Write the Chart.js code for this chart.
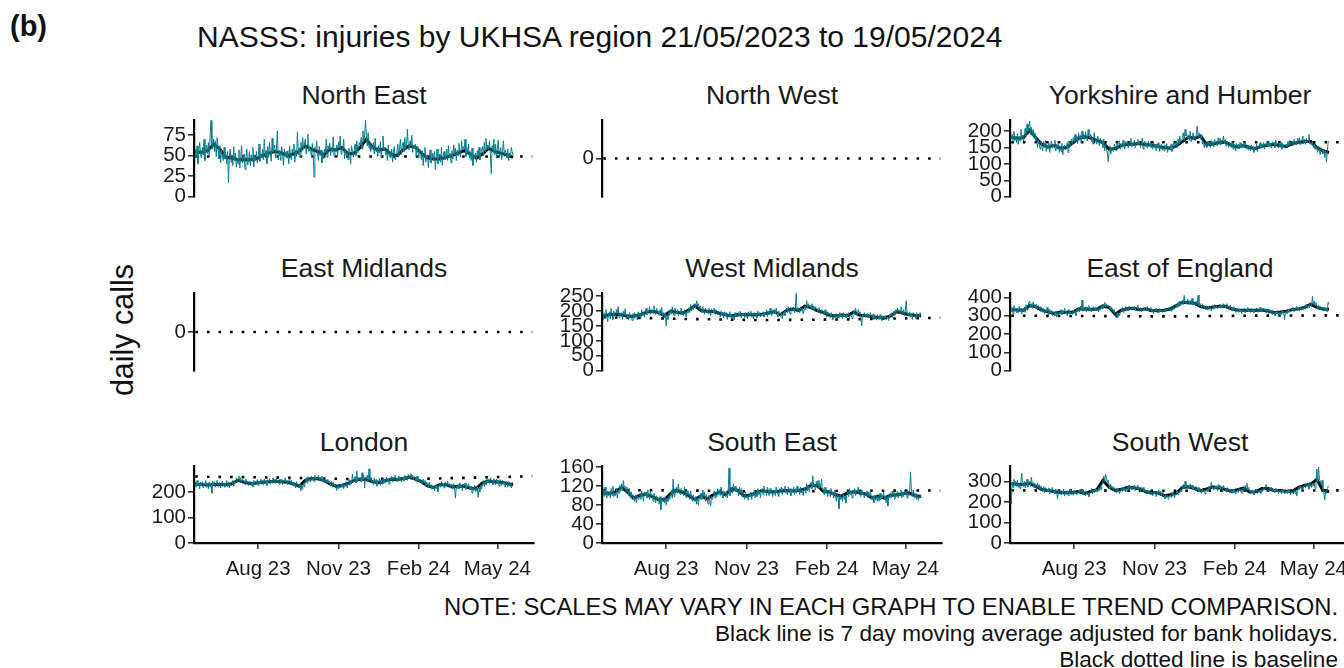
<!DOCTYPE html>
<html><head><meta charset="utf-8">
<script src="https://cdn.jsdelivr.net/npm/chart.js@4.4.1/dist/chart.umd.min.js"></script>
<style>
html,body{margin:0;padding:0;background:#fff;width:1344px;height:668px;overflow:hidden;position:relative;font-family:"Liberation Sans",Arial,sans-serif;color:#000}
.t{position:absolute;white-space:nowrap;line-height:1;color:#111}
.pt{transform:translateX(-50%);font-size:26.5px;color:#1a1a1a}
canvas{position:absolute}
</style></head><body>
<div class="t" style="left:10px;top:12px;font-size:29px;font-weight:bold">(b)</div>
<div class="t" style="left:197px;top:21.6px;font-size:30px">NASSS: injuries by UKHSA region 21/05/2023 to 19/05/2024</div>
<div class="t" style="left:122px;top:330px;font-size:30.5px;transform:translate(-50%,-50%) rotate(-90deg)">daily calls</div>
<div class="t pt" style="left:364px;top:81.6px">North East</div>
<div class="t pt" style="left:772px;top:81.6px">North West</div>
<div class="t pt" style="left:1180px;top:81.6px">Yorkshire and Humber</div>
<div class="t pt" style="left:364px;top:254.6px">East Midlands</div>
<div class="t pt" style="left:772px;top:254.6px">West Midlands</div>
<div class="t pt" style="left:1180px;top:254.6px">East of England</div>
<div class="t pt" style="left:364px;top:428.6px">London</div>
<div class="t pt" style="left:772px;top:428.6px">South East</div>
<div class="t pt" style="left:1180px;top:428.6px">South West</div>
<div class="t" style="right:6px;top:595px;font-size:23.8px">NOTE: SCALES MAY VARY IN EACH GRAPH TO ENABLE TREND COMPARISON.</div>
<div class="t" style="right:6px;top:622.5px;font-size:22.6px">Black line is 7 day moving average adjusted for bank holidays.</div>
<div class="t" style="right:6px;top:649px;font-size:22.6px">Black dotted line is baseline</div>
<script>
// x axis ticks (day 0 = 21/05/2023)
const xTickDays = [72, 164, 256, 346];
const xTickLabels = ['Aug 23', 'Nov 23', 'Feb 24', 'May 24'];
// days at which the 7-day moving average was read
const maDays = [0,7,14,21,28,35,42,49,56,63,70,77,84,91,98,105,112,119,126,133,140,147,154,161,168,175,182,189,196,203,210,217,224,231,238,245,252,259,266,273,280,287,294,301,308,315,322,329,336,343,350,357,364];
const baseDays = [0, 91, 182, 273, 386];

const neDaily = [58,48,62,40,55,66,52, 47,60,51,70,44,57,63, 52,66,49,75,93,61,58, 70,55,68,49,72,60,46, 62,41,57,50,44,60,46, 52,40,55,17,49,58,42, 50,38,61,44,53,36,47, 40,57,35,49,62,41,46, 52,33,47,58,39,44,55, 38,51,43,60,36,49,45, 55,41,48,64,43,52,47, 58,45,70,49,56,40,61, 48,66,52,43,71,54,59, 63,47,58,80,45,56,50, 44,61,52,38,58,49,55, 47,56,40,62,50,45,58, 53,64,42,57,49,79,51, 60,48,66,55,72,58,64, 70,52,63,76,55,61,57, 49,65,53,24,60,56,68, 52,44,61,50,57,41,55, 46,58,53,70,48,62,57, 65,50,60,54,73,49,58, 55,63,48,67,59,74,52, 61,57,70,46,58,50,54, 45,59,51,40,62,55,48, 57,64,50,68,53,61,66, 63,72,58,80,67,75,93, 74,62,78,59,66,55,63, 58,66,52,71,55,60,49, 62,53,67,48,59,74,56, 60,51,57,44,63,49,55, 47,58,42,55,61,45,50, 53,64,48,59,70,51,62, 66,55,72,58,64,82,60, 57,68,62,75,54,63,58, 64,50,61,55,47,58,52, 45,56,38,52,60,42,49, 51,35,48,57,41,46,53, 44,55,33,49,58,40,47, 52,42,60,38,50,55,45, 49,58,44,62,47,53,41, 56,46,63,51,59,44,57, 50,65,54,48,68,57,61, 58,70,49,60,53,64,47, 55,44,59,38,51,46,53, 42,56,49,60,45,52,58, 61,50,66,55,71,57,63, 58,68,52,28,62,55,70, 51,64,47,58,69,50,56, 60,45,55,68,49,57,52, 47,58,44,53,49,60,55, 50];
const neMA = [54,54,56,64,58,48,47,45,45,45,46,50,53,55,54,50,52,55,62,58,55,51,58,57,60,52,53,60,70,60,57,58,52,50,57,62,60,53,47,46,46,48,50,53,56,52,47,52,59,55,53,51,48];
const neBase = [49, 49, 49, 49, 49];

const nwBase = [0, 0, 0, 0, 0];

const ykDaily = [175,190,168,200,172,185,165, 192,160,183,170,205,176,188, 170,195,210,185,222,198,215, 230,190,212,185,205,178,195, 168,185,150,172,160,145,170, 155,140,168,150,172,138,158, 145,163,135,158,170,148,160, 150,172,140,160,145,165,135, 155,138,162,128,150,158,142, 148,165,135,170,152,160,175, 158,180,165,190,170,185,162, 195,172,188,165,200,180,190, 175,198,182,170,205,185,178, 190,168,180,160,195,175,170, 160,185,170,155,178,165,172, 150,175,140,160,145,135,107, 140,155,130,150,148,138,160, 152,140,165,148,158,170,145, 162,150,172,155,145,168,160, 170,148,165,158,178,152,163, 155,172,150,165,160,175,158, 168,150,163,178,145,160,170, 152,165,148,170,155,162,150, 160,145,168,150,158,140,162, 148,165,138,155,160,142,152, 140,158,145,162,135,150,155, 145,160,138,152,165,148,158, 170,150,175,160,185,165,172, 180,195,170,205,185,190,178, 188,172,200,168,182,195,175, 185,170,192,215,180,195,188, 175,190,160,170,150,165,155, 148,170,155,165,150,172,158, 168,152,175,160,170,155,180, 160,178,158,172,165,185,162, 175,155,168,160,150,165,158, 150,168,145,160,155,140,162, 148,160,145,165,152,158,150, 162,148,170,152,145,158,142, 155,140,158,145,150,135,152, 145,160,138,155,150,165,148, 158,150,165,145,162,155,168, 152,170,155,162,148,168,160, 165,150,172,158,155,148,162, 150,165,145,160,155,148,158, 160,150,168,155,172,158,165, 170,155,175,162,168,158,178, 165,180,158,172,170,185,162, 175,160,178,165,172,190,160, 165,158,170,150,160,145,155, 148,135,155,140,128,150,142, 130,145,120,140,105,138,165, 170];
const ykMA = [181,178,180,203,180,160,152,157,148,150,163,178,183,179,172,165,145,147,156,160,161,162,159,157,153,150,148,155,168,182,178,185,158,161,165,167,157,152,156,150,147,154,157,160,156,153,162,166,168,168,150,140,135];
const ykBase = [166, 166, 166, 166, 166];

const emBase = [0, 0, 0, 0, 0];

const wmDaily = [170,195,178,205,182,165,190, 198,175,210,185,172,200,188, 180,205,192,215,178,195,186, 195,172,200,185,208,180,176, 190,170,195,178,185,168,192, 175,195,180,188,170,198,184, 192,178,205,185,195,180,200, 210,188,202,195,215,190,198, 205,192,218,198,188,210,195, 200,185,205,190,212,180,195, 178,195,150,188,172,200,185, 205,190,215,198,185,210,200, 190,205,185,200,195,210,188, 198,185,205,192,180,202,195, 210,195,222,200,215,205,225, 220,210,235,215,225,205,218, 208,195,215,200,190,210,198, 205,192,210,198,185,208,200, 195,210,190,205,200,188,198, 192,180,200,185,195,178,198, 185,195,172,190,182,198,180, 190,175,185,170,195,180,188, 180,195,185,200,178,192,185, 192,178,195,185,175,198,188, 185,200,180,192,175,195,188, 192,178,200,185,195,180,190, 185,198,180,195,188,205,182, 200,188,210,192,185,205,195, 205,190,210,195,180,200,188, 182,195,175,190,198,185,200, 210,195,215,200,190,212,205, 200,215,195,210,265,198,212, 208,195,215,200,210,190,205, 218,205,235,210,225,215,220, 210,225,205,218,200,215,208, 205,195,212,200,190,205,198, 200,188,205,192,180,198,190, 185,178,195,180,172,190,185, 180,192,175,188,178,195,182, 190,175,195,182,188,178,192, 182,195,178,190,185,175,188, 200,188,210,195,185,205,198, 190,178,150,188,182,195,180, 185,192,178,190,180,195,182, 178,190,172,185,180,170,188, 180,172,188,175,168,185,178, 175,185,170,180,178,168,188, 182,195,178,190,200,185,205, 195,210,198,205,192,215,200, 190,205,185,200,235,190,195, 185,198,180,192,172,195,188, 190,175,195,182,188,180,195, 185];
const wmMA = [183,188,190,188,183,183,188,196,200,196,185,200,196,193,205,218,202,200,199,193,188,184,189,188,188,188,190,194,198,188,203,207,202,217,212,202,196,186,184,187,185,197,186,185,181,179,178,184,198,194,188,186,185];
const wmBase = [180, 174, 170, 172, 178];

const eeDaily = [320,345,310,355,325,340,315, 338,315,350,325,342,310,335, 325,348,318,360,330,345,372, 380,345,365,340,375,350,362, 340,362,330,355,345,325,350, 335,318,342,310,330,320,345, 325,305,335,315,328,300,322, 315,300,325,292,318,305,320, 310,332,305,325,315,340,318, 325,300,318,335,308,322,312, 305,330,312,325,300,338,320, 345,320,352,330,385,325,340, 330,348,322,345,335,355,328, 342,320,338,350,325,345,330, 335,348,320,342,330,355,338, 360,340,372,348,365,345,358, 352,335,348,325,340,318,332, 305,290,318,295,310,300,322, 325,345,318,340,330,350,328, 340,325,352,335,345,330,348, 335,350,328,345,340,358,332, 328,345,320,340,335,325,342, 345,330,350,325,340,332,345, 320,335,312,330,325,340,318, 330,315,338,322,335,318,332, 325,340,320,335,330,345,328, 338,325,345,330,350,335,348, 360,345,372,350,380,355,368, 385,360,410,370,378,362,390, 375,360,385,365,395,358,372, 370,355,380,360,412,352,368, 358,340,365,345,355,335,350, 345,330,352,335,348,325,340, 352,335,360,342,355,338,350, 348,362,340,358,345,365,350, 355,340,365,348,352,335,358, 342,325,348,332,340,318,338, 330,318,338,325,335,310,332, 325,340,315,335,328,345,320, 332,318,340,325,335,315,330, 328,342,318,335,325,345,322, 335,320,342,328,338,315,335, 325,310,335,318,330,305,328, 315,300,325,310,322,295,318, 322,308,330,315,325,278,320, 325,310,335,318,330,320,338, 330,345,322,340,335,350,328, 340,325,348,332,345,330,342, 350,335,362,340,358,345,365, 370,350,405,360,380,355,372, 350,335,358,340,352,330,345, 340,325,348,330,342,320,375, 365];
const eeMA = [333,331,330,355,349,330,321,312,320,318,318,336,337,335,335,353,345,308,330,338,340,333,337,327,328,330,336,355,373,370,368,350,342,347,351,352,338,331,330,330,330,331,325,318,320,324,333,337,345,363,345,337,335];
const eeBase = [300, 298, 296, 300, 302];

const loDaily = [240,218,245,225,235,212,238, 222,240,215,235,228,245,218, 235,212,238,220,230,195,242, 225,240,218,232,245,220,235, 238,215,230,242,222,235,218, 230,245,220,238,215,232,225, 228,245,222,240,235,255,238, 250,262,240,255,235,248,242, 245,228,250,235,242,225,238, 240,225,238,220,245,230,242, 232,248,225,242,230,250,235, 245,228,250,235,242,225,248, 238,252,230,245,235,255,240, 248,232,255,238,245,230,250, 235,250,228,245,240,255,232, 245,228,240,252,232,245,225, 238,222,235,215,240,228,220, 215,230,205,225,212,235,218, 240,255,235,260,245,250,238, 262,245,258,240,265,248,255, 250,265,242,258,245,262,240, 255,238,250,232,248,235,242, 235,222,240,218,238,225,230, 220,205,228,212,225,215,230, 218,235,212,230,222,240,215, 235,250,225,245,232,270,238, 245,260,235,282,240,255,248, 255,238,275,245,265,215,258, 250,265,240,290,245,258,235, 242,228,255,235,248,222,245, 238,252,225,245,230,255,232, 248,235,258,240,252,230,255, 245,262,238,255,248,265,242, 255,240,262,245,258,238,250, 258,242,265,248,262,245,268, 262,250,272,255,265,248,260, 255,240,262,245,250,235,248, 242,228,250,235,245,222,238, 230,215,238,220,228,210,225, 222,205,228,212,225,200,220, 232,218,240,225,235,215,238, 235,220,242,225,232,215,230, 225,210,232,215,175,222,212, 228,212,235,218,225,205,230, 222,235,210,228,218,232,215, 210,222,195,218,205,225,200, 205,220,178,215,200,225,212, 230,245,222,240,228,250,235, 248,232,255,240,245,228,252, 242,228,250,235,245,222,248, 238,225,245,230,242,218,240, 235,220,240,225,232,215,238, 230];
const loMA = [230,229,227,229,229,228,232,245,237,233,235,238,240,242,240,238,232,222,245,252,251,245,232,222,225,233,245,249,248,239,236,243,249,248,252,258,250,240,223,217,228,228,219,222,223,214,214,235,242,240,238,233,228];
const loBase = [260, 256, 250, 252, 261];

const seDaily = [112,98,118,102,95,110,100, 108,95,115,100,120,98,105, 100,115,95,112,105,122,110, 125,110,132,115,120,108,118, 112,100,115,95,108,92,102, 98,88,102,85,100,92,96, 105,92,110,98,88,108,100, 108,95,112,100,92,110,98, 102,88,105,95,85,100,92, 95,82,98,70,92,88,96, 85,98,80,95,88,100,92, 100,112,95,135,98,115,108, 118,105,125,110,102,115,108, 112,100,118,105,95,110,102, 105,92,110,98,88,102,95, 88,98,82,95,80,100,92, 105,92,112,98,108,88,102, 95,82,100,88,78,98,92, 100,110,95,108,98,115,102, 112,100,118,105,95,110,105, 98,110,95,105,158,100,112, 118,105,125,110,120,108,115, 112,100,118,105,115,98,108, 102,92,108,95,100,90,105, 98,108,92,105,100,112,95, 108,98,115,102,110,96,112, 115,102,120,108,112,100,118, 110,100,115,105,112,98,108, 112,100,118,104,110,98,115, 108,118,102,115,110,120,105, 112,102,118,108,115,100,114, 108,118,102,115,105,120,110, 115,102,118,108,112,100,116, 118,105,125,110,120,108,122, 128,115,142,120,125,112,130, 120,132,115,125,118,135,112, 115,102,118,105,110,98,112, 110,98,115,102,108,95,112, 100,88,105,95,72,102,92, 98,88,105,92,100,85,102, 108,98,115,102,110,95,112, 105,115,100,112,108,118,102, 110,98,112,102,108,95,105, 100,110,95,108,98,112,96, 92,100,85,98,90,102,88, 98,88,105,92,102,95,108, 92,100,85,98,78,102,95, 105,95,110,98,108,92,102, 98,110,95,105,100,112,96, 108,98,112,102,110,95,105, 100,112,150,105,98,112,102, 95,105,92,100,90,98,102, 96];
const seMA = [105,105,108,118,107,95,101,103,98,92,91,104,111,107,100,92,100,93,102,108,102,115,111,100,101,106,111,108,108,110,111,110,111,114,122,121,109,108,102,99,106,108,106,103,95,99,95,101,102,104,106,100,98];
const seBase = [112, 111, 109, 110, 111];

const swDaily = [190,295,270,310,280,300,275, 305,270,290,265,298,340,280, 275,300,268,290,310,272,295, 300,275,320,285,295,270,290, 280,262,290,270,285,255,278, 265,250,275,245,270,255,262, 250,268,240,262,252,270,245, 255,238,262,245,215,258,248, 250,235,255,240,262,228,248, 240,255,230,250,238,258,235, 248,232,255,240,250,235,245, 255,240,262,245,258,235,250, 245,230,250,235,242,225,248, 250,265,240,258,245,262,248, 262,250,270,255,275,258,290, 310,325,300,335,315,295,305, 280,262,285,268,275,255,270, 258,245,265,250,262,240,255, 265,250,272,255,268,248,262, 275,260,282,265,278,258,272, 268,282,255,275,262,280,258, 265,252,272,258,270,248,262, 250,238,258,242,255,235,248, 245,230,252,238,248,225,250, 242,258,235,250,228,255,240, 228,215,235,220,232,212,230, 235,222,245,228,240,220,238, 242,255,235,250,245,262,248, 268,285,262,300,272,280,265, 278,265,288,270,282,262,275, 268,252,275,258,270,250,265, 255,242,262,248,258,238,252, 262,250,275,258,268,295,265, 272,258,280,265,278,255,285, 268,282,258,275,262,280,265, 262,248,270,255,265,245,260, 255,240,262,245,258,238,250, 258,245,265,252,262,240,262, 268,255,280,262,290,258,270, 250,238,258,242,252,235,248, 248,262,240,255,245,258,242, 262,250,272,258,268,285,265, 265,252,272,258,270,248,262, 258,245,265,250,262,240,255, 255,242,262,248,258,238,252, 252,240,260,245,255,235,250, 250,238,258,242,255,228,252, 270,258,280,262,275,255,278, 282,268,290,275,285,262,295, 285,270,292,278,290,265,288, 360,295,370,310,300,285,305, 260,245,210,250,240,265,275, 272];
const swMA = [288,286,285,290,275,260,255,250,245,244,246,250,241,251,259,305,271,256,261,271,269,263,249,244,244,230,235,242,270,273,265,255,263,272,268,261,252,259,267,248,249,265,265,256,255,252,252,271,281,285,310,255,250];
const swBase = [256, 255, 254, 255, 256];

const TEAL = '#0a7d8f';
const FONT = '"Liberation Sans", Arial, sans-serif';

function xy(xs, ys) { return ys.map((v, i) => ({ x: xs ? xs[i] : i, y: v })); }

function panel(p) {
  const bottom = !!p.bottom;
  const W = 60 + 340 + 6;
  const H = 14 + p.plotH + (bottom ? 46 : 14);
  const c = document.createElement('canvas');
  c.width = W; c.height = H;
  c.style.left = (p.axisX - 60) + 'px';
  c.style.top = (p.plotTop - 14) + 'px';
  c.style.width = W + 'px'; c.style.height = H + 'px';
  document.body.appendChild(c);
  const ds = [];
  if (p.daily) ds.push({ data: xy(null, p.daily), borderColor: TEAL, borderWidth: 1 });
  ds.push({ data: xy(baseDays, p.base), borderColor: '#000', borderWidth: 2.6, borderDash: [2.6, 9], borderCapStyle: 'butt' });
  if (p.ma) ds.push({ data: xy(maDays, p.ma), borderColor: '#000', borderWidth: 3 });
  new Chart(c, {
    type: 'line',
    data: { datasets: ds },
    options: {
      responsive: false, animation: false, devicePixelRatio: 1,
      layout: { padding: { left: 0, right: 6, top: 14, bottom: bottom ? 0 : 14 } },
      plugins: { legend: { display: false }, tooltip: { enabled: false } },
      elements: { point: { radius: 0 }, line: { tension: 0, fill: false } },
      scales: {
        x: {
          type: 'linear', min: -1.5, max: 388, display: bottom,
          afterBuildTicks: s => { s.ticks = xTickDays.map(v => ({ value: v })); },
          afterFit: s => { s.height = bottom ? 46 : 0; },
          ticks: { autoSkip: false, maxRotation: 0, color: '#1a1a1a', font: { family: FONT, size: 20.5 }, padding: 8,
                   callback: (v, i) => xTickLabels[i] },
          grid: { drawOnChartArea: false, drawTicks: true, tickLength: 6, color: '#333', lineWidth: 1.6 },
          border: { display: true, color: '#000', width: 2.2 }
        },
        y: {
          type: 'linear', min: p.yMin, max: p.yMax,
          afterBuildTicks: s => { s.ticks = p.yTicks.map(v => ({ value: v })); },
          afterFit: s => { s.width = 60; },
          ticks: { autoSkip: false, color: '#1a1a1a', font: { family: FONT, size: 20.5 }, padding: 2 },
          grid: { drawOnChartArea: false, drawTicks: true, tickLength: 6, color: '#333', lineWidth: 1.6 },
          border: { display: true, color: '#000', width: 2.2 }
        }
      }
    }
  });
}

const C1 = 194, C2 = 602, C3 = 1010;
panel({ axisX: C1, plotTop: 120, plotH: 77, yMin: 0, yMax: 93, yTicks: [0,25,50,75], daily: neDaily, ma: neMA, base: neBase });
panel({ axisX: C2, plotTop: 120, plotH: 77, yMin: -1, yMax: 1, yTicks: [0], base: nwBase });
panel({ axisX: C3, plotTop: 120, plotH: 77, yMin: 0, yMax: 233, yTicks: [0,50,100,150,200], daily: ykDaily, ma: ykMA, base: ykBase });
panel({ axisX: C1, plotTop: 293, plotH: 78, yMin: -1, yMax: 1, yTicks: [0], base: emBase });
panel({ axisX: C2, plotTop: 293, plotH: 78, yMin: 0, yMax: 260, yTicks: [0,50,100,150,200,250], daily: wmDaily, ma: wmMA, base: wmBase });
panel({ axisX: C3, plotTop: 293, plotH: 78, yMin: 0, yMax: 422, yTicks: [0,100,200,300,400], daily: eeDaily, ma: eeMA, base: eeBase });
panel({ axisX: C1, plotTop: 466, plotH: 77, yMin: 0, yMax: 300, yTicks: [0,100,200], daily: loDaily, ma: loMA, base: loBase, bottom: true });
panel({ axisX: C2, plotTop: 466, plotH: 77, yMin: 0, yMax: 162, yTicks: [0,40,80,120,160], daily: seDaily, ma: seMA, base: seBase, bottom: true });
panel({ axisX: C3, plotTop: 466, plotH: 77, yMin: 0, yMax: 373, yTicks: [0,100,200,300], daily: swDaily, ma: swMA, base: swBase, bottom: true });
</script>
</body></html>
